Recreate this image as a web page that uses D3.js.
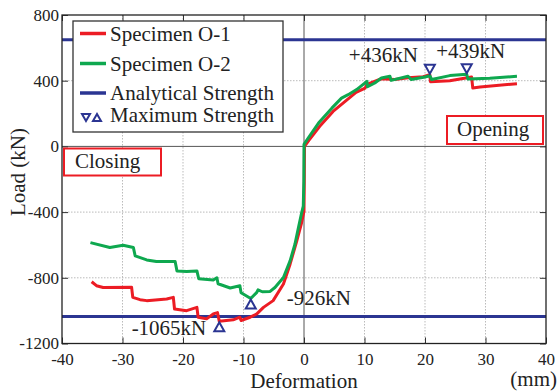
<!DOCTYPE html>
<html>
<head>
<meta charset="utf-8">
<script src="https://cdn.jsdelivr.net/npm/d3@7"></script>
<style>
  body { margin: 0; background: #fff; }
  text { font-family: "Liberation Serif", "Times New Roman", serif; fill: #222; }
</style>
</head>
<body>
<script>
// deformation (mm) / load (kN) envelopes
var o1Curve = [
  [-35.1,-824],[-34.3,-848],[-33.2,-859],[-28.5,-857],[-28.3,-919],[-27.1,-933],[-26.0,-939],
  [-22.7,-929],[-21.6,-919],[-21.4,-990],[-19.4,-1000],[-17.7,-980],[-17.5,-1040],[-16.1,-1050],
  [-15.0,-1020],[-14.3,-1012],[-14.0,-1065],[-11.7,-1056],[-10.6,-1040],[-10.4,-1060],[-8.9,-1040],
  [-7.8,-1020],[-6.7,-980],[-5.1,-939],[-3.4,-838],[-2.3,-717],[-1.2,-576],[-0.4,-465],[0,-394],
  [0.05,-212],[0.08,0],
  [0.8,37],[2.6,122],[4.8,213],[6.8,274],[8.6,329],[10.1,355],[10.4,378],[12.8,412],[15.0,407],
  [17.2,418],[19.7,424],[20.8,436],[20.9,394],[24.1,400],[27.7,423],[27.9,355],[29.1,362],[35.2,382]
];
var o2Curve = [
  [-35.3,-586],[-32.1,-616],[-29.9,-602],[-28.2,-616],[-27.9,-667],[-26.0,-691],[-24.4,-701],
  [-21.3,-701],[-21.0,-758],[-19.4,-762],[-17.7,-758],[-17.4,-806],[-15.0,-814],[-14.4,-800],
  [-14.2,-836],[-12.2,-862],[-10.6,-848],[-10.4,-891],[-8.8,-926],[-7.8,-889],[-7.6,-873],
  [-6.9,-885],[-5.6,-883],[-4.8,-859],[-3.4,-798],[-2.3,-697],[-1.5,-596],[-0.9,-491],[-0.4,-406],
  [-0.12,-364],[-0.03,-212],[0,0],[0,12],
  [0.7,51],[2.4,142],[4.6,233],[6.2,294],[7.3,315],[8.7,346],[10.4,396],[10.5,363],[11.7,386],
  [12.8,416],[14.2,427],[14.4,402],[17.2,427],[17.7,407],[20.0,423],[20.8,430],[21.1,407],
  [24.1,431],[26.9,439],[27.1,410],[30.7,415],[35.2,427]
];
var analytical = [650, -1035];
var maxPoints = [
  {x: 20.8, y: 436, dir: "down", label: "+436kN"},
  {x: 26.9, y: 439, dir: "down", label: "+439kN"},
  {x: -8.8, y: -926, dir: "up", label: "-926kN"},
  {x: -14.0, y: -1065, dir: "up", label: "-1065kN"}
];
var xTicks = [-40, -30, -20, -10, 0, 10, 20, 30, 40];
var yTicks = [800, 400, 0, -400, -800, -1200];
var legendItems = ["Specimen O-1", "Specimen O-2", "Analytical Strength", "Maximum Strength"];

var red = "#ec1c24", green = "#0ea84f", blue = "#2b3592";
var serif = "'Liberation Serif', 'Times New Roman', serif";

var svg = d3.select("body").append("svg")
  .attr("width", 558)
  .attr("height", 392);

var x = d3.scaleLinear().domain([-40, 40]).range([62, 546]);
var y = d3.scaleLinear().domain([-1200, 800]).range([343.5, 15]);

// grid
svg.append("g").selectAll("line").data(xTicks.filter(function(d){ return d > -40 && d < 40 && d != 0; }))
  .enter().append("line")
  .attr("x1", function(d){ return x(d); }).attr("x2", function(d){ return x(d); })
  .attr("y1", y(800)).attr("y2", y(-1200))
  .attr("stroke", "#aaa").attr("stroke-width", 0.8).attr("stroke-dasharray", "1.5,1.5");
svg.append("g").selectAll("line").data(yTicks.filter(function(d){ return d > -1200 && d < 800 && d != 0; }))
  .enter().append("line")
  .attr("y1", function(d){ return y(d); }).attr("y2", function(d){ return y(d); })
  .attr("x1", x(-40)).attr("x2", x(40))
  .attr("stroke", "#aaa").attr("stroke-width", 0.8).attr("stroke-dasharray", "1.5,1.5");

// zero lines
svg.append("line").attr("x1", x(0)).attr("x2", x(0)).attr("y1", y(800)).attr("y2", y(-1200))
  .attr("stroke", "#555").attr("stroke-width", 1);
svg.append("line").attr("y1", y(0)).attr("y2", y(0)).attr("x1", x(-40)).attr("x2", x(40))
  .attr("stroke", "#555").attr("stroke-width", 1);

// axes, ticks inward on all sides
function styleAxis(g) {
  g.select(".domain").remove();
  g.attr("font-family", serif).attr("font-size", 17);
  g.selectAll("text").attr("fill", "#222");
}
svg.append("g").attr("transform", "translate(0," + y(-1200) + ")")
  .call(d3.axisBottom(x).tickValues(xTicks).tickSize(-6).tickPadding(9).tickFormat(String))
  .call(styleAxis);
svg.append("g").attr("transform", "translate(0," + y(800) + ")")
  .call(d3.axisTop(x).tickValues(xTicks).tickSize(-6).tickFormat(""))
  .call(styleAxis);
svg.append("g").attr("transform", "translate(" + x(-40) + ",0)")
  .call(d3.axisLeft(y).tickValues(yTicks).tickSize(-6).tickPadding(3).tickFormat(String))
  .call(styleAxis);
svg.append("g").attr("transform", "translate(" + x(40) + ",0)")
  .call(d3.axisRight(y).tickValues(yTicks).tickSize(-6).tickFormat(""))
  .call(styleAxis);
svg.selectAll(".tick line").attr("stroke", "#333");

// analytical strength
svg.selectAll(".ana").data(analytical).enter().append("line")
  .attr("x1", x(-40)).attr("x2", x(40))
  .attr("y1", function(d){ return y(d); }).attr("y2", function(d){ return y(d); })
  .attr("stroke", blue).attr("stroke-width", 3);

var line = d3.line().x(function(d){ return x(d[0]); }).y(function(d){ return y(d[1]); });
svg.append("path").datum(o1Curve).attr("d", line)
  .attr("fill", "none").attr("stroke", red).attr("stroke-width", 3).attr("stroke-linejoin", "round");
svg.append("path").datum(o2Curve).attr("d", line)
  .attr("fill", "none").attr("stroke", green).attr("stroke-width", 3).attr("stroke-linejoin", "round");

// frame
svg.append("rect").attr("x", x(-40)).attr("y", y(800))
  .attr("width", x(40) - x(-40)).attr("height", y(-1200) - y(800))
  .attr("fill", "none").attr("stroke", "#222").attr("stroke-width", 1.3);

// max markers
function tri(dir) {
  return dir == "down" ? "M-5,-9L5,-9L0,0Z" : "M-5,9L5,9L0,0Z";
}
svg.selectAll(".mk").data(maxPoints).enter().append("path")
  .attr("transform", function(d){ return "translate(" + x(d.x) + "," + (y(d.y) + (d.dir == "down" ? -1 : 1)) + ")"; })
  .attr("d", function(d){ return tri(d.dir); })
  .attr("fill", "#fff").attr("stroke", blue).attr("stroke-width", 2);

var labelPos = [[-12, -13, "end"], [4, -16, "middle"], [36, 7, "start"], [-13, 14, "end"]];
svg.selectAll(".ml").data(maxPoints).enter().append("text")
  .attr("x", function(d, i){ return x(d.x) + labelPos[i][0]; })
  .attr("y", function(d, i){ return y(d.y) + labelPos[i][1]; })
  .attr("text-anchor", function(d, i){ return labelPos[i][2]; })
  .attr("font-size", 21)
  .text(function(d){ return d.label; });

// legend
var lg = svg.append("g");
lg.append("rect").attr("x", 73).attr("y", 21).attr("width", 210).attr("height", 111)
  .attr("fill", "#fff").attr("stroke", "#333").attr("stroke-width", 1.3);
var lgY = [40.5, 70.5, 100, 122];
lg.selectAll("text").data(legendItems).enter().append("text")
  .attr("x", 110).attr("y", function(d, i){ return lgY[i]; })
  .attr("font-size", 21).text(function(d){ return d; });
[red, green, blue].forEach(function(c, i) {
  lg.append("line").attr("x1", 80).attr("x2", 106)
    .attr("y1", lgY[i] - 7).attr("y2", lgY[i] - 7)
    .attr("stroke", c).attr("stroke-width", 3.5);
});
lg.append("path").attr("transform", "translate(86," + lgY[3] + ")").attr("d", "M-4,-8L4,-8L0,-1Z")
  .attr("fill", "#fff").attr("stroke", blue).attr("stroke-width", 2);
lg.append("path").attr("transform", "translate(97," + lgY[3] + ")").attr("d", "M-4,-1L4,-1L0,-8Z")
  .attr("fill", "#fff").attr("stroke", blue).attr("stroke-width", 2);

// boxed region labels
function boxLabel(bx, by, bw, bh, tx, ty, txt) {
  svg.append("rect").attr("x", bx).attr("y", by).attr("width", bw).attr("height", bh)
    .attr("fill", "#fff").attr("stroke", red).attr("stroke-width", 2);
  svg.append("text").attr("x", tx).attr("y", ty).attr("font-size", 21).text(txt);
}
boxLabel(64, 148.5, 97, 27, 75, 168, "Closing");
boxLabel(447, 116, 96, 28, 457, 136, "Opening");

// axis titles
svg.append("text").attr("transform", "translate(25,172) rotate(-90)")
  .attr("text-anchor", "middle").attr("font-size", 21).text("Load (kN)");
svg.append("text").attr("x", x(0)).attr("y", 388)
  .attr("text-anchor", "middle").attr("font-size", 21).text("Deformation");
svg.append("text").attr("x", 557).attr("y", 386)
  .attr("text-anchor", "end").attr("font-size", 21).text("(mm)");
</script>
</body>
</html>
